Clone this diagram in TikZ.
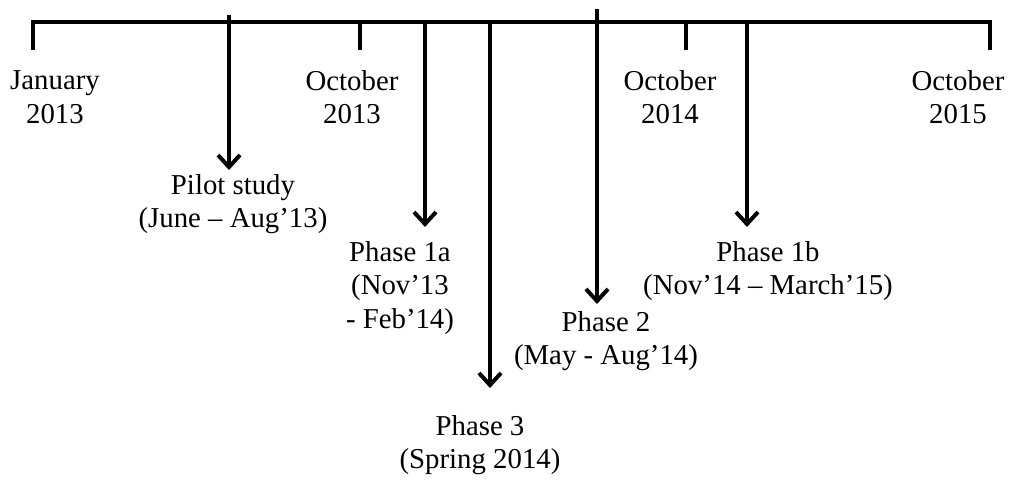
\documentclass[tikz,border=0pt]{standalone}
\usepackage{fontspec}
\setmainfont{Liberation Serif}
\usetikzlibrary{arrows.meta}

\tikzset{
	axis/.style={line width=2pt, line join=miter},
	phasearrow/.style={line width=2pt, -{Straight Barb[length=6pt,width=11pt,line width=2pt]}},
	datelabel/.style={align=center, font=\fontsize{14.4pt}{16.8pt}\selectfont, inner sep=0pt},
}

\begin{document}
\begin{tikzpicture}[x=0.5pt, y=-0.5pt]
	\useasboundingbox (0,0) rectangle (1013,480);

	% time axis with ticks
	\coordinate (T0) at (33,22);
	\coordinate (T1) at (360,22);
	\coordinate (T2) at (686,22);
	\coordinate (T3) at (990,22);
	\draw[axis] (33,50) -- (T0) -- (T3) -- (990,50);
	\draw[axis] (T1) -- (360,50);
	\draw[axis] (T2) -- (686,50);

	\node[datelabel] (jan13) at (55,97) {January\\2013};
	\node[datelabel] (oct13) at (352,97) {October\\2013};
	\node[datelabel] (oct14) at (670,97) {October\\2014};
	\node[datelabel] (oct15) at (958,97) {October\\2015};

	% phases
	\coordinate (pilotS) at (229,15);
	\coordinate (pilotE) at (229,170);
	\coordinate (oneaS) at (425,22);
	\coordinate (oneaE) at (425,227);
	\coordinate (threeS) at (490,24);
	\coordinate (threeE) at (490,388);
	\coordinate (twoS) at (597,9);
	\coordinate (twoE) at (597,304);
	\coordinate (onebS) at (747,22);
	\coordinate (onebE) at (747,227);

	\draw[phasearrow] (pilotS) -- (pilotE);
	\draw[phasearrow] (oneaS) -- (oneaE);
	\draw[phasearrow] (threeS) -- (threeE);
	\draw[phasearrow] (twoS) -- (twoE);
	\draw[phasearrow] (onebS) -- (onebE);

	\node[datelabel] (pilot) at (233,204) {Pilot study\\(June -- Aug’13)};
	\node[datelabel] (onea) at (400,288) {Phase 1a\\(Nov’13\\- Feb’14)};
	\node[datelabel] (two) at (606,341) {Phase 2\\(May - Aug’14)};
	\node[datelabel] (oneb) at (768,271) {Phase 1b\\(Nov’14 -- March’15)};
	\node[datelabel] (three) at (480,445) {Phase 3\\(Spring 2014)};
\end{tikzpicture}
\end{document}
